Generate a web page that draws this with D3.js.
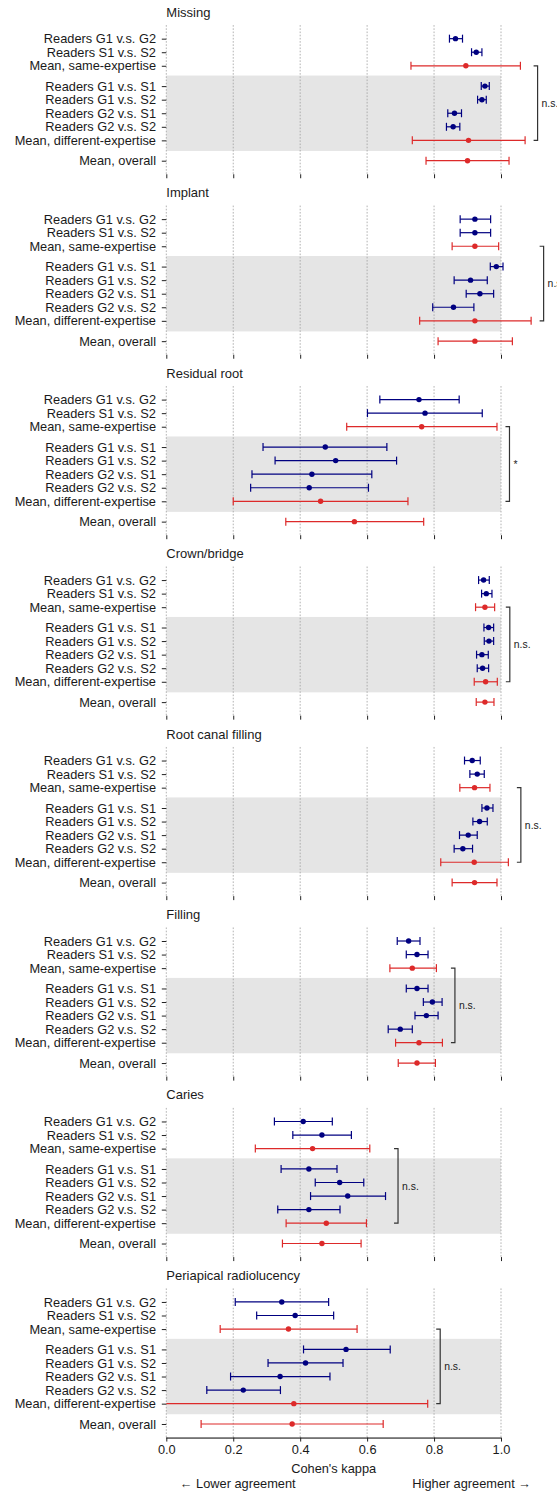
<!DOCTYPE html>
<html>
<head>
<meta charset="utf-8">
<script src="https://cdn.jsdelivr.net/npm/d3@7"></script>
<style>
  html, body { margin: 0; padding: 0; background: #fff; }
  svg { display: block; font-family: "Liberation Sans", Arial, Helvetica, sans-serif; }
</style>
</head>
<body>
<svg id="chart"></svg>
<script>
// Inter-reader agreement (Cohen's kappa with 95% CI) per radiographic finding
const findings = ["Missing", "Implant", "Residual root", "Crown/bridge",
  "Root canal filling", "Filling", "Caries", "Periapical radiolucency"];

const comparisons = ["Readers G1 v.s. G2", "Readers S1 v.s. S2", "Mean, same-expertise",
  "Readers G1 v.s. S1", "Readers G1 v.s. S2", "Readers G2 v.s. S1", "Readers G2 v.s. S2",
  "Mean, different-expertise", "Mean, overall"];

const isMean = [false, false, true, false, false, false, false, true, true];

const kappa = [
  [0.864, 0.926, 0.895, 0.952, 0.943, 0.861, 0.857, 0.903, 0.900],
  [0.922, 0.922, 0.922, 0.986, 0.909, 0.937, 0.858, 0.922, 0.922],
  [0.755, 0.773, 0.763, 0.475, 0.506, 0.435, 0.427, 0.461, 0.562],
  [0.948, 0.956, 0.952, 0.963, 0.964, 0.943, 0.945, 0.954, 0.952],
  [0.914, 0.929, 0.921, 0.958, 0.936, 0.902, 0.886, 0.920, 0.921],
  [0.724, 0.749, 0.735, 0.749, 0.795, 0.777, 0.699, 0.755, 0.749],
  [0.409, 0.465, 0.437, 0.426, 0.518, 0.542, 0.426, 0.478, 0.465],
  [0.345, 0.385, 0.365, 0.537, 0.416, 0.340, 0.230, 0.381, 0.376]
];

const ciLower = [
  [0.846, 0.912, 0.731, 0.941, 0.930, 0.841, 0.837, 0.735, 0.776],
  [0.878, 0.878, 0.854, 0.968, 0.860, 0.896, 0.796, 0.757, 0.812],
  [0.638, 0.601, 0.539, 0.289, 0.325, 0.256, 0.252, 0.200, 0.357],
  [0.933, 0.942, 0.924, 0.949, 0.950, 0.927, 0.929, 0.920, 0.926],
  [0.891, 0.907, 0.877, 0.943, 0.916, 0.876, 0.860, 0.820, 0.854],
  [0.690, 0.717, 0.668, 0.717, 0.768, 0.743, 0.663, 0.685, 0.693],
  [0.323, 0.378, 0.266, 0.343, 0.445, 0.431, 0.333, 0.358, 0.347],
  [0.206, 0.270, 0.161, 0.410, 0.304, 0.192, 0.121, -0.019, 0.104]
];

const ciUpper = [
  [0.885, 0.943, 1.058, 0.965, 0.956, 0.882, 0.877, 1.072, 1.024],
  [0.969, 0.969, 0.993, 1.006, 0.959, 0.978, 0.919, 1.090, 1.034],
  [0.875, 0.944, 0.988, 0.659, 0.688, 0.614, 0.604, 0.722, 0.769],
  [0.965, 0.973, 0.981, 0.978, 0.978, 0.962, 0.963, 0.989, 0.979],
  [0.938, 0.950, 0.967, 0.976, 0.959, 0.929, 0.915, 1.022, 0.988],
  [0.758, 0.782, 0.807, 0.782, 0.824, 0.812, 0.735, 0.825, 0.804],
  [0.496, 0.553, 0.608, 0.510, 0.590, 0.655, 0.519, 0.598, 0.582],
  [0.485, 0.500, 0.570, 0.669, 0.528, 0.489, 0.341, 0.781, 0.648]
];

// same- vs different-expertise mean comparison
const groupTest = ["n.s.", "n.s.", "*", "n.s.", "n.s.", "n.s.", "n.s.", "n.s."];

const xTicks = [0, 0.2, 0.4, 0.6, 0.8, 1.0];

// ---- layout ----
const W = 557, H = 1492;
const FONT = 12.8;
const unit = 13.56;             // vertical spacing between rows
const panelPitch = 180.47;
const firstTop = 25.1;
const rowSlot = [0, 1, 2, 3.5, 4.5, 5.5, 6.5, 7.5, 9];
const pairColor = "#000080";
const meanColor = "#dd2a2a";

const svg = d3.select("#chart").attr("width", W).attr("height", H);

const x = d3.scaleLinear().domain([0, 1]).range([166.3, 501]);

svg.append("defs").append("clipPath").attr("id", "plotClip")
  .append("rect").attr("x", x(0)).attr("y", 0).attr("width", W - x(0)).attr("height", H);

findings.forEach((name, p) => {
  const top = firstTop + p * panelPitch;
  const y = d3.scaleLinear().domain([-1, 10]).range([top, top + 11 * unit]);
  const bottom = y(10);
  const g = svg.append("g");

  // title
  g.append("text")
    .attr("x", x(0)).attr("y", y(0) - 22)
    .attr("font-size", 13).attr("fill", "#1a1a1a")
    .text(name);

  // shaded band for the different-expertise block
  g.append("rect")
    .attr("x", x(0)).attr("width", x(1) - x(0))
    .attr("y", y(2.72)).attr("height", y(8.28) - y(2.72))
    .attr("fill", "#e5e5e5");

  // vertical grid
  g.selectAll("line.grid").data(xTicks).join("line")
    .attr("class", "grid")
    .attr("x1", d => x(d)).attr("x2", d => x(d))
    .attr("y1", top).attr("y2", bottom)
    .attr("stroke", "#a0a0a0").attr("stroke-width", 0.8)
    .attr("stroke-dasharray", "1.6,1.6");

  // x axis (tick marks on every panel, labels on the last)
  const last = p === findings.length - 1;
  const xAxis = d3.axisBottom(x).tickValues(xTicks).tickSize(4).tickPadding(3)
    .tickFormat(last ? d3.format(".1f") : () => "");
  const ax = g.append("g").attr("transform", `translate(0,${bottom})`).call(xAxis);
  ax.select(".domain").attr("stroke", last ? "#000" : "none").attr("d", `M${x(0)},0.5H${x(1)}`);
  ax.selectAll(".tick line").attr("stroke", "#222");
  ax.selectAll(".tick text").attr("font-size", FONT).attr("fill", "#1a1a1a")
    .attr("font-family", "Liberation Sans, Arial, sans-serif");

  // y axis labels
  const yAxis = d3.axisLeft(y).tickValues(rowSlot).tickSize(4.5).tickPadding(5.8)
    .tickFormat((d, i) => comparisons[i]);
  const ay = g.append("g").attr("transform", `translate(${x(0)},0)`).call(yAxis);
  ay.select(".domain").remove();
  ay.selectAll(".tick line").attr("stroke", "#222");
  ay.selectAll(".tick text").attr("font-size", FONT).attr("fill", "#1a1a1a")
    .attr("font-family", "Liberation Sans, Arial, sans-serif");

  // error bars and point estimates
  const rows = comparisons.map((c, i) => ({
    slot: rowSlot[i], k: kappa[p][i], lo: ciLower[p][i], hi: ciUpper[p][i],
    color: isMean[i] ? meanColor : pairColor
  }));
  const eb = g.append("g").attr("clip-path", "url(#plotClip)");
  const row = eb.selectAll("g.row").data(rows).join("g").attr("class", "row");
  row.append("line")
    .attr("x1", d => x(d.lo)).attr("x2", d => x(d.hi))
    .attr("y1", d => y(d.slot)).attr("y2", d => y(d.slot))
    .attr("stroke", d => d.color).attr("stroke-width", 1.2);
  row.append("line")
    .attr("x1", d => x(d.lo)).attr("x2", d => x(d.lo))
    .attr("y1", d => y(d.slot) - 4).attr("y2", d => y(d.slot) + 4)
    .attr("stroke", d => d.color).attr("stroke-width", 1.2);
  row.append("line")
    .attr("x1", d => x(d.hi)).attr("x2", d => x(d.hi))
    .attr("y1", d => y(d.slot) - 4).attr("y2", d => y(d.slot) + 4)
    .attr("stroke", d => d.color).attr("stroke-width", 1.2);
  row.append("circle")
    .attr("cx", d => x(d.k)).attr("cy", d => y(d.slot)).attr("r", 2.7)
    .attr("fill", d => d.color);

  // bracket comparing the two expertise means
  const maxHi = d3.max(ciUpper[p]);
  const bx0 = x(maxHi) + 8.5, bx1 = bx0 + 4;
  const ya = y(rowSlot[2]), yb = y(rowSlot[7]);
  g.append("path")
    .attr("d", `M${bx0},${ya}H${bx1}V${yb}H${bx0}`)
    .attr("fill", "none").attr("stroke", "#333").attr("stroke-width", 1.2);
  g.append("text")
    .attr("x", bx1 + 4).attr("y", (ya + yb) / 2).attr("dy", "0.35em")
    .attr("font-size", 10.4).attr("fill", "#1a1a1a")
    .text(groupTest[p]);

  if (last) {
    g.append("text")
      .attr("x", (x(0) + x(1)) / 2).attr("y", bottom + 35)
      .attr("text-anchor", "middle").attr("font-size", FONT).attr("fill", "#1a1a1a")
      .text("Cohen's kappa");
    g.append("text")
      .attr("x", x(0.04)).attr("y", bottom + 50)
      .attr("font-size", FONT).attr("fill", "#1a1a1a")
      .text("← Lower agreement");
    g.append("text")
      .attr("x", x(1.09)).attr("y", bottom + 50).attr("text-anchor", "end")
      .attr("font-size", FONT).attr("fill", "#1a1a1a")
      .text("Higher agreement →");
  }
});
</script>
</body>
</html>
